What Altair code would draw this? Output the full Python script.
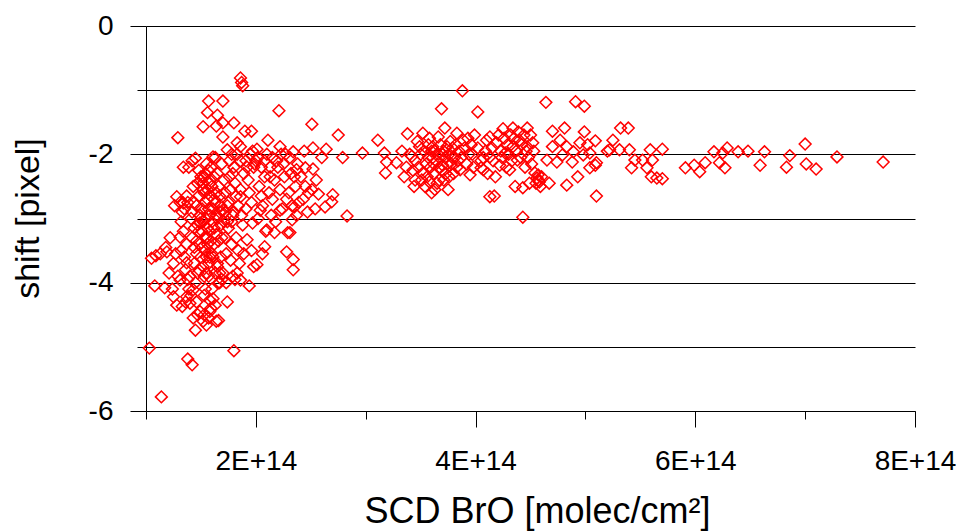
import altair as alt
import pandas as pd

# SCD BrO in units of 1E+14 molec/cm², shift in pixel
cluster_low = [
    (1.03,-5.02),(1.05,-3.62),(1.08,-4.05),(1.09,-3.58),(1.14,-5.78),(1.13,-3.55),(1.17,-4.08),(1.18,-3.45),(1.19,-3.52),
    (1.21,-3.85),(1.22,-3.3),(1.24,-4.1),(1.25,-3.7),(1.25,-4.22),(1.26,-2.8),(1.27,-3.55),(1.28,-4.35),(1.28,-2.66),(1.29,-3.9),(1.29,-1.74),
    (1.31,-2.75),(1.31,-3.29),(1.31,-3.96),(1.32,-3.05),(1.32,-3.5),(1.33,-4.37),(1.33,-2.9),(1.34,-3.2),(1.34,-2.2),(1.34,-2.76),
    (1.35,-2.85),(1.35,-3.6),(1.36,-4.3),(1.36,-3.8),(1.37,-3.4),(1.37,-2.65),(1.37,-3.69),(1.37,-4.22),(1.38,-2.75),(1.38,-3.95),
    (1.38,-5.19),(1.39,-4.1),(1.39,-2.2),
    (1.40,-4.32),(1.40,-3.9),(1.41,-3.0),(1.41,-4.2),(1.42,-3.3),(1.42,-5.28),(1.42,-2.1),(1.43,-2.5),(1.43,-4.11),(1.43,-4.55),
    (1.44,-3.7),(1.44,-3.45),(1.44,-2.75),(1.45,-4.74),(1.45,-4.0),(1.45,-2.06),(1.46,-2.8),(1.46,-3.35),(1.46,-4.3),(1.47,-3.1),
    (1.47,-2.45),(1.47,-4.5),(1.48,-2.25),(1.48,-3.8),(1.48,-3.2),(1.49,-4.45),(1.49,-2.95),(1.49,-3.07),
    (1.50,-2.4),(1.50,-3.6),(1.50,-3.0),(1.50,-2.35),(1.51,-3.2),(1.51,-2.85),(1.52,-4.6),(1.52,-3.75),(1.52,-2.55),(1.52,-1.57),
    (1.52,-2.45),(1.53,-2.6),(1.53,-2.35),(1.53,-4.5),(1.54,-3.5),(1.54,-4.1),(1.54,-3.0),(1.54,-2.3),(1.55,-2.15),(1.55,-3.3),
    (1.55,-3.85),(1.55,-3.29),(1.55,-4.66),(1.56,-2.7),(1.56,-3.15),(1.56,-1.35),(1.56,-2.55),(1.57,-3.9),(1.57,-1.17),(1.57,-4.55),
    (1.57,-2.25),(1.58,-2.95),(1.58,-3.6),(1.58,-2.45),(1.58,-4.27),(1.58,-4.45),(1.58,-2.4),(1.59,-4.4),(1.59,-2.2),(1.59,-3.35),
    (1.60,-3.55),(1.60,-2.5),(1.61,-2.85),(1.61,-4.25),(1.61,-2.04),(1.62,-3.4),(1.62,-2.7),(1.62,-2.35),(1.63,-2.05),(1.63,-4.35),
    (1.64,-4.6),(1.64,-3.25),(1.64,-1.56),(1.64,-2.6),(1.65,-3.7),(1.65,-2.3),(1.65,-3.0),(1.65,-1.39),(1.65,-3.75),(1.66,-2.5),
    (1.66,-4.0),(1.66,-4.59),(1.67,-2.9),(1.67,-3.85),(1.67,-4.0),(1.68,-3.1),(1.68,-3.6),(1.69,-3.95),(1.69,-2.15),
    (1.70,-3.85),(1.70,-2.87),(1.70,-1.17),(1.70,-1.51),(1.70,-1.73),(1.71,-2.4),(1.72,-3.3),(1.72,-2.6),(1.73,-4.0),(1.74,-2.8),
    (1.74,-3.05),(1.74,-1.93),(1.74,-4.3),(1.75,-2.75),(1.76,-2.1),(1.76,-2.35),(1.77,-3.65),(1.78,-3.4),(1.78,-2.0),(1.79,-2.95),
    (1.79,-2.3),(1.79,-3.9),
    (1.80,-5.06),(1.80,-2.2),(1.80,-2.9),(1.80,-1.51),(1.81,-3.95),(1.82,-3.3),(1.82,-2.65),(1.83,-2.0),(1.83,-1.82),(1.83,-3.85),
    (1.84,-2.8),(1.84,-3.5),(1.85,-3.7),(1.86,-0.81),(1.86,-2.55),(1.86,-2.1),(1.86,-1.88),(1.86,-2.66),(1.86,-3.96),(1.87,-0.88),
    (1.87,-2.95),(1.88,-0.93),(1.88,-3.1),(1.89,-2.3),(1.89,-3.55),
    (1.90,-1.64),(1.91,-2.1),(1.91,-2.85),(1.92,-2.2),(1.92,-3.33),(1.93,-2.4),(1.94,-4.05),(1.94,-2.6),(1.95,-2.0),(1.96,-2.75),
    (1.96,-1.64),(1.96,-3.5),(1.97,-1.95),(1.97,-3.07),(1.98,-3.75),(1.98,-2.2),(1.99,-2.15),
    (2.00,-2.1),(2.01,-1.92),(2.01,-3.72),(2.02,-3.0),(2.02,-2.05),(2.03,-2.5),(2.04,-2.87),(2.05,-2.2),(2.05,-2.65),(2.06,-2.8),
    (2.06,-3.55),(2.08,-2.35),(2.08,-2.1),(2.08,-3.44),(2.09,-3.2),
    (2.10,-2.0),(2.10,-3.18),(2.11,-1.78),(2.12,-2.6),(2.13,-2.35),(2.13,-2.2),(2.14,-2.95),(2.15,-2.05),(2.15,-2.7),(2.17,-3.22),
    (2.17,-2.4),(2.19,-2.1),(2.18,-3.05),
    (2.20,-2.2),(2.21,-1.32),(2.22,-1.88),(2.22,-2.55),(2.22,-2.87),(2.23,-2.0),(2.24,-2.85),(2.25,-2.15),(2.26,-2.35),(2.27,-2.0),
    (2.28,-2.7),(2.28,-3.52),(2.29,-3.22),
    (2.30,-2.6),(2.31,-2.05),(2.32,-2.3),(2.33,-2.8),(2.33,-3.02),(2.34,-1.96),(2.34,-3.64),(2.34,-3.8),(2.35,-2.35),(2.35,-2.82),
    (2.36,-2.5),(2.37,-2.24),(2.37,-2.95),(2.38,-2.15),(2.39,-2.75),(2.31,-3.22),
]

# extra points in the densest part of the low-column cluster
cluster_core = [
    (1.42,-2.9),(1.44,-3.15),(1.46,-3.55),(1.48,-2.65),(1.49,-3.4),(1.51,-3.45),(1.52,-3.05),(1.53,-3.9),(1.54,-2.75),
    (1.55,-3.6),(1.56,-3.4),(1.57,-2.85),(1.57,-3.7),(1.58,-3.2),(1.59,-2.65),(1.60,-3.05),(1.61,-3.6),(1.62,-3.15),
    (1.63,-2.75),(1.63,-3.85),(1.64,-2.95),(1.66,-3.35),(1.67,-2.65),(1.68,-2.8),(1.69,-3.3),(1.71,-3.05),(1.72,-2.9),
    (1.73,-3.55),(1.75,-3.15),(1.77,-2.55),(1.78,-3.05),(1.81,-2.45),(1.53,-4.2),(1.60,-4.1),(1.47,-3.85),
]

sparse_mid = [
    (2.51,-1.53),(2.75,-1.70),(2.52,-1.90),(2.64,-1.92),(2.79,-2.05),(2.97,-1.98),(3.11,-1.78),(3.17,-1.98),(3.19,-2.12),
    (3.18,-2.29),(3.28,-2.13),(2.83,-2.96),(2.63,-2.82),(2.54,-2.85),(2.70,-2.63),(2.57,-2.62),(2.45,-2.21),(2.52,-2.23),
    (2.45,-2.5),(2.51,-2.55),(2.69,-2.74),(2.43,-2.7),(2.47,-2.9),(2.41,-2.35),(2.55,-2.4),(2.60,-2.05),(2.44,-1.95),(2.48,-2.6),
]

cluster_high = [
    (3.38,-1.68),(3.33,-1.95),(3.52,-1.67),(3.69,-1.29),(3.88,-1.01),(4.02,-1.34),(3.72,-1.59),(3.60,-2.6),(3.75,-2.55),
    (3.45,-2.4),(3.42,-2.03),(3.61,-1.88),(3.83,-1.67),(3.89,-1.78),(3.97,-2.0),(3.86,-2.24),(3.95,-2.32),(4.07,-2.24),
    (4.07,-2.05),(4.10,-1.78),(3.67,-2.4),(3.58,-2.43),(3.70,-2.17),(3.52,-2.29),(3.74,-1.88),(3.61,-2.05),(3.49,-1.88),
    (3.66,-1.73),(4.13,-2.66),
    (3.45,-2.1),(3.48,-2.2),(3.50,-2.0),(3.53,-1.95),(3.55,-2.15),(3.56,-2.35),(3.57,-1.85),(3.59,-2.2),(3.62,-2.3),(3.63,-1.95),
    (3.64,-2.1),(3.65,-2.45),(3.66,-2.0),(3.68,-1.85),(3.69,-2.25),(3.71,-1.95),(3.72,-2.05),(3.73,-2.3),(3.76,-2.0),(3.77,-1.8),
    (3.78,-2.15),(3.79,-1.9),(3.80,-2.3),(3.81,-2.05),(3.82,-1.85),(3.84,-2.1),(3.85,-1.95),(3.87,-2.05),(3.90,-1.9),(3.92,-2.15),
    (3.93,-1.75),(3.94,-2.0),(3.96,-1.85),(3.98,-2.2),(3.99,-1.7),(3.43,-2.25),(3.47,-1.8),(3.54,-2.5),(3.63,-2.55),(3.71,-2.4),
    (3.58,-1.75),(3.37,-2.2),(3.35,-2.35),(3.40,-2.0),(3.44,-2.5),
    (3.51,-2.4),(3.57,-2.05),(3.60,-1.95),(3.62,-2.15),(3.67,-2.2),(3.70,-2.0),(3.74,-2.15),(3.76,-2.35),(3.79,-2.05),(3.83,-2.2),
    (4.64,-1.19),(4.91,-1.18),(4.99,-1.25),(4.17,-2.65),(4.43,-2.98),(5.10,-2.65),(4.25,-1.60),(4.34,-1.59),(4.47,-1.59),
    (4.70,-1.64),(4.81,-1.59),(4.99,-1.65),(5.09,-1.79),
    (4.13,-1.73),(4.19,-1.82),(4.27,-1.98),(4.34,-1.88),(4.40,-1.78),(4.47,-1.88),(4.52,-1.82),(4.38,-2.09),(4.31,-2.24),
    (4.22,-2.17),(4.13,-2.04),(4.05,-2.21),(4.36,-2.5),(4.43,-2.52),(4.49,-2.45),(4.57,-2.4),(4.59,-2.5),(4.60,-2.35),(4.67,-2.45),
    (4.74,-2.12),(4.79,-2.01),(4.83,-1.88),(4.89,-1.96),(4.88,-2.12),(4.95,-1.82),(4.98,-2.01),(5.04,-1.98),(5.09,-2.17),
    (4.93,-2.35),(4.83,-2.48),(4.77,-1.78),(4.70,-1.88),(4.65,-2.09),(5.04,-2.21),(5.10,-2.13),(5.20,-1.95),(5.02,-1.85),
    (4.54,-2.29),(4.56,-2.37),(4.58,-2.43),(4.55,-2.45),(4.57,-2.32),
    (4.02,-1.9),(4.05,-2.1),(4.09,-1.95),(4.11,-2.3),(4.15,-1.9),(4.16,-2.1),(4.18,-2.35),(4.21,-1.7),(4.23,-1.95),(4.24,-2.05),
    (4.26,-1.75),(4.28,-2.2),(4.29,-1.85),(4.30,-2.0),(4.32,-1.7),(4.33,-2.1),(4.35,-1.75),(4.37,-1.95),(4.39,-1.65),(4.41,-2.05),
    (4.42,-1.85),(4.44,-1.7),(4.45,-2.2),(4.46,-1.95),(4.48,-2.05),(4.50,-1.7),(4.51,-2.15),(4.53,-1.95),
]

tail = [
    (5.32,-1.59),(5.39,-1.59),(5.25,-1.78),(5.22,-1.93),(5.31,-1.93),(5.40,-1.93),(5.70,-1.92),(5.59,-1.93),(5.45,-2.09),
    (5.52,-2.09),(5.42,-2.21),(5.61,-2.09),(5.56,-2.21),(5.60,-2.35),(5.65,-2.37),(5.70,-2.38),(5.91,-2.21),(5.99,-2.17),
    (6.04,-2.27),(6.09,-2.13),(6.17,-1.96),(6.22,-2.13),(6.27,-2.21),(6.29,-1.90),(6.25,-1.98),(6.39,-1.96),(6.48,-1.95),
    (6.59,-2.17),(6.63,-1.96),(6.83,-2.2),(6.86,-2.02),(7.00,-1.84),(7.01,-2.15),(7.10,-2.23),(7.29,-2.04),(7.71,-2.12),
]

x_ticks = [1, 2, 3, 4, 5, 6, 7, 8]
y_ticks = [-6, -5, -4, -3, -2, -1, 0]

rows = cluster_low + cluster_core + sparse_mid + cluster_high + tail
df = pd.DataFrame(rows, columns=["scd", "shift"])

FONT = "Liberation Sans"

x_axis = alt.Axis(
    values=x_ticks,
    labelExpr="datum.value % 2 === 0 ? datum.value + 'E+14' : ''",
    grid=False,
    domainColor="black",
    domainWidth=1,
    tickColor="black",
    tickWidth=1,
    tickSize={"condition": {"test": "datum.value % 2 === 0", "value": 16}, "value": 8},
    labelFont=FONT,
    labelFontSize=28,
    labelColor="black",
    labelPadding=20,
    labelFlush=False,
    title="SCD BrO [molec/cm²]",
    titleFont=FONT,
    titleFontSize=36,
    titleFontWeight="normal",
    titleColor="black",
    titleX=391,
    titleY=100,
    titleBaseline="middle",
    titleAlign="center",
)

y_axis = alt.Axis(
    values=y_ticks,
    labelExpr="datum.value % 2 === 0 ? '' + datum.value : ''",
    grid=True,
    gridColor="black",
    gridWidth=1,
    gridOpacity=1,
    domainColor="black",
    domainWidth=1,
    tickColor="black",
    tickWidth=1,
    tickSize={"condition": {"test": "datum.value % 2 === 0", "value": 16}, "value": 9},
    labelFont=FONT,
    labelFontSize=28,
    labelColor="black",
    labelPadding=17,
    labelFlush=False,
    title="shift [pixel]",
    titleFont=FONT,
    titleFontSize=34,
    titleFontWeight="normal",
    titleColor="black",
    titleAngle=-90,
    titleX=-118,
    titleY=192,
    titleBaseline="middle",
    titleAlign="center",
)

chart = (
    alt.Chart(df)
    .mark_point(shape="diamond", filled=False, color="#ff0000", size=140, strokeWidth=1.5, opacity=1)
    .encode(
        x=alt.X("scd:Q", scale=alt.Scale(domain=[1, 8], nice=False, zero=False), axis=x_axis),
        y=alt.Y("shift:Q", scale=alt.Scale(domain=[-6, 0], nice=False, zero=False), axis=y_axis),
    )
    .properties(
        width=769,
        height=385,
        autosize=alt.AutoSizeParams(type="none"),
        padding={"left": 146, "top": 26, "right": 46, "bottom": 120},
        background="white",
    )
    .configure_view(stroke=None)
)

chart.save("out.html", embed_options={"renderer": "svg", "actions": False})
